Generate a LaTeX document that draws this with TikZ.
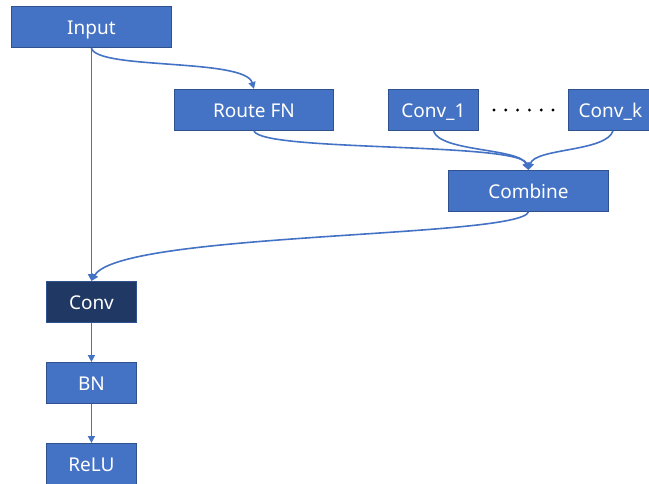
\documentclass[tikz,border=0pt]{standalone}
\usepackage{fontspec}
\setmainfont{Noto Sans}
\usetikzlibrary{arrows.meta}
\definecolor{boxblue}{HTML}{4472C4}
\definecolor{boxedge}{HTML}{2F528F}
\definecolor{navy}{HTML}{203864}
\begin{document}
\begin{tikzpicture}[x=1pt,y=-1pt,
  blk/.style={draw=boxedge,line width=0.9pt,fill=boxblue,text=white,font=\fontsize{19}{22}\selectfont,
    minimum height=41pt,inner sep=0pt,text height=14.6pt,text depth=0pt,anchor=north west},
  link/.style={draw=boxblue,line width=1.6pt,-{Triangle[length=7pt,width=7pt]}}]
\useasboundingbox (0,0) rectangle (649,483);
\node[blk,minimum width=160pt] (in) at (11,6) {Input};
\node[blk,minimum width=159pt] (rf) at (174,89) {Route FN};
\node[blk,minimum width=90pt] (c1) at (388,89) {Conv\_1};
\node[blk,minimum width=84pt] (ck) at (568,89) {Conv\_k};
\node[blk,minimum width=160pt] (cb) at (448,170) {Combine};
\node[blk,minimum width=90pt,fill=navy] (cv) at (46,281) {Conv};
\node[blk,minimum width=90pt] (bn) at (46,362) {BN};
\node[blk,minimum width=90pt] (rl) at (46,443) {ReLU};
% dotted gap between the parallel convolutions
\foreach \i in {0,...,5}
  \fill (494+\i*11.8,110) circle (1.6pt);
% connectors
\draw[link] (in.south) -- (cv.north);
\draw[link] (in.south) .. controls (96,70) and (245,58) .. (rf.north);
\draw[link] (rf.south) .. controls (262,152) and (520,142) .. (cb.north);
\draw[link] (c1.south) .. controls (440,152) and (520,148) .. (cb.north);
\draw[link] (ck.south-|613,0) .. controls (606,152) and (535,148) .. (cb.north);
\draw[link] (cb.south) .. controls (520,238) and (120,232) .. (cv.north);
\draw[link] (cv.south) -- (bn.north);
\draw[link] (bn.south) -- (rl.north);
\end{tikzpicture}
\end{document}
